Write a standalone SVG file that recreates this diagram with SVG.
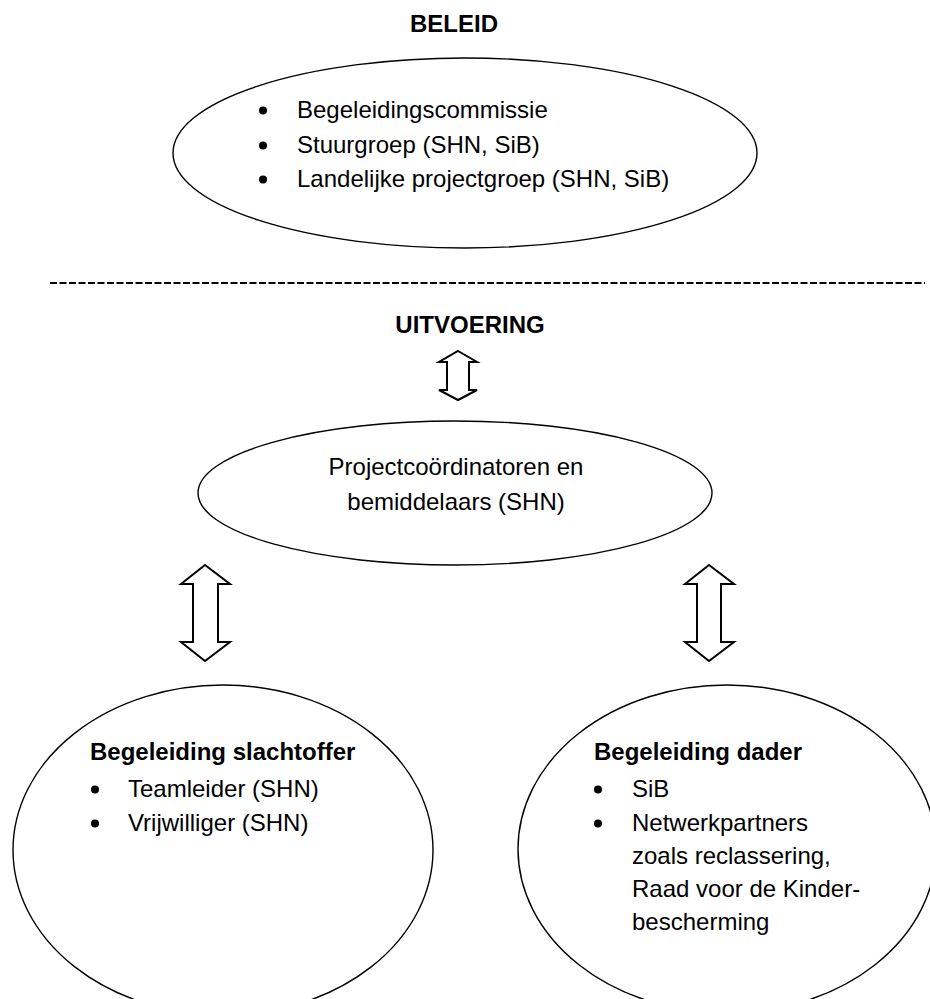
<svg xmlns="http://www.w3.org/2000/svg" width="930" height="999" viewBox="0 0 930 999">
<style>
.bg{fill:#fff}
.node{fill:none;stroke:#000;stroke-width:1.4}
.arrow{fill:#fff;stroke:#000;stroke-width:2;stroke-linejoin:miter}
.t{font-family:"Liberation Sans",Arial,sans-serif;font-size:24px;fill:#000}
.b{font-weight:bold}
.dot{fill:#000}
.sep{stroke:#000;stroke-width:2;stroke-dasharray:7 2.5}
</style>
<rect class="bg" x="0" y="0" width="930" height="999"/>
<text class="t b" x="454" y="32" text-anchor="middle">BELEID</text>
<g id="beleid">
<ellipse class="node" cx="465" cy="153" rx="292" ry="95"/>
<circle class="dot" cx="263" cy="110.5" r="4"/>
<circle class="dot" cx="263" cy="145.5" r="4"/>
<circle class="dot" cx="263" cy="179.5" r="4"/>
<text class="t" x="297" y="118">Begeleidingscommissie</text>
<text class="t" x="297" y="153">Stuurgroep (SHN, SiB)</text>
<text class="t" x="297" y="187">Landelijke projectgroep (SHN, SiB)</text>
</g>
<line class="sep" x1="50" y1="283" x2="925" y2="283"/>
<text class="t b" x="470" y="333" text-anchor="middle">UITVOERING</text>
<g id="coordinatoren">
<ellipse class="node" cx="455" cy="493" rx="257" ry="72"/>
<text class="t" x="456" y="475" text-anchor="middle">Projectcoördinatoren en</text>
<text class="t" x="456" y="510" text-anchor="middle">bemiddelaars (SHN)</text>
</g>
<g id="slachtoffer">
<ellipse class="node" cx="223" cy="850" rx="210" ry="165"/>
<text class="t b" x="90" y="760">Begeleiding slachtoffer</text>
<circle class="dot" cx="95" cy="789.5" r="4"/>
<circle class="dot" cx="95" cy="823.5" r="4"/>
<text class="t" x="128" y="797">Teamleider (SHN)</text>
<text class="t" x="128" y="831">Vrijwilliger (SHN)</text>
</g>
<g id="dader">
<ellipse class="node" cx="727" cy="849" rx="209" ry="164"/>
<text class="t b" x="594" y="760">Begeleiding dader</text>
<circle class="dot" cx="598" cy="789.5" r="4"/>
<circle class="dot" cx="598" cy="823.5" r="4"/>
<text class="t" x="632" y="797">SiB</text>
<text class="t" x="632" y="831">Netwerkpartners</text>
<text class="t" x="632" y="864">zoals reclassering,</text>
<text class="t" x="632" y="897">Raad voor de Kinder-</text>
<text class="t" x="632" y="930">bescherming</text>
</g>
<g id="connectors">
<polygon class="arrow" points="458,351 477,362 469,362 469,390 477,390 458,400 439,390 447,390 447,362 439,362"/>
<polygon class="arrow" points="205,565 230,584 218,584 218,642 230,642 205,661 181,642 193,642 193,584 181,584"/>
<polygon class="arrow" points="709,565 734,584 721,584 721,642 734,642 709,661 685,642 697,642 697,584 685,584"/>
</g>
</svg>
